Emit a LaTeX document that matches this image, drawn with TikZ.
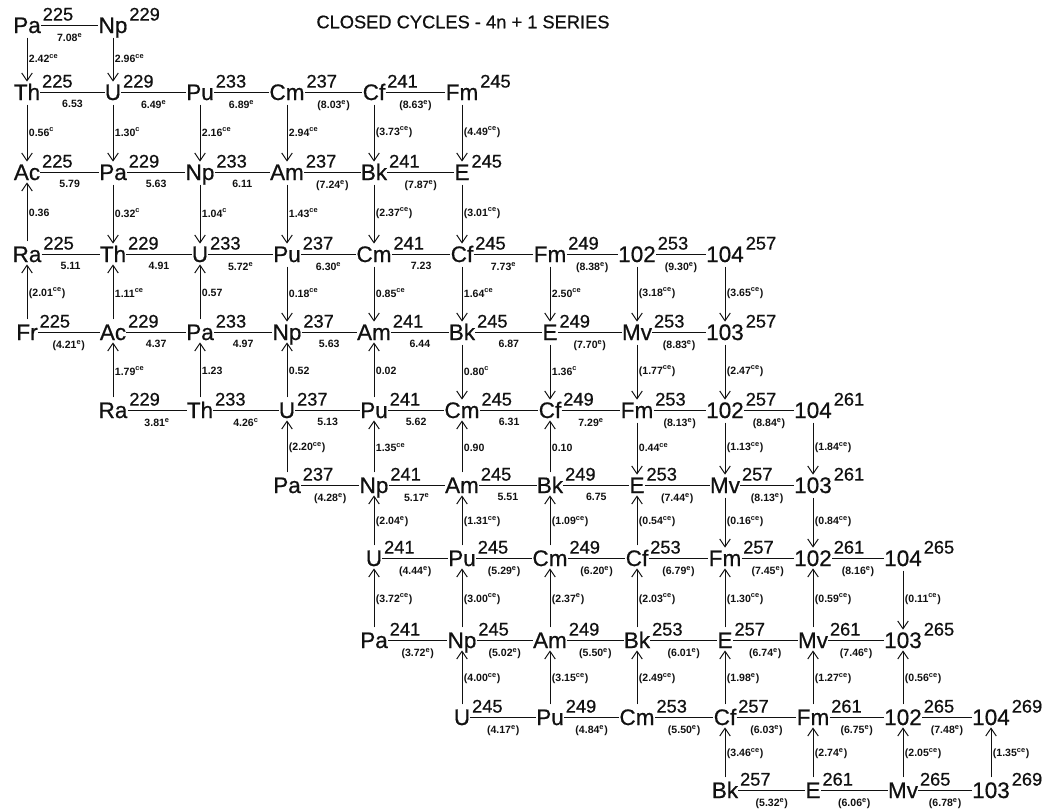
\documentclass[tikz,border=0pt]{standalone}
\usepackage{fontspec}
\setmainfont{Liberation Sans}
\newfontfamily\rotulo{Liberation Sans}[FakeBold=0.6]
\usetikzlibrary{arrows.meta,positioning}
\definecolor{tinta}{HTML}{111111}
\tikzset{
  nuclido/.style={inner sep=0pt,text height=11.4pt,text depth=0pt,font=\rotulo\fontsize{16}{16}\selectfont,text=tinta},
  masa/.style={font=\rotulo\fontsize{13}{13}\selectfont,inner sep=0pt,text height=9.3pt,text depth=0pt,xshift=1pt,yshift=7.8pt,text=tinta},
  enlace/.style={draw=tinta,line width=0.7pt},
  decae/.style={draw=tinta,line width=0.7pt,-{Straight Barb[length=5.5pt,width=7.5pt]},shorten <=3pt,shorten >=1.5pt},
  energia/.style={font=\fontsize{7.5}{7.5}\selectfont\bfseries,inner sep=0pt,text=tinta},
  titulo/.style={font=\rotulo\fontsize{13}{13}\selectfont,text=tinta},
}
\begin{document}
\begin{tikzpicture}[x=0.025cm,y=0.025cm]
\useasboundingbox (0,0) rectangle (1051,-810);
\node[titulo] (titulo) at (463,-22) {CLOSED CYCLES - 4n + 1 SERIES};
\node[nuclido,label={[masa]east:225}] (pa225) at (27,-25) {Pa};
\node[nuclido,label={[masa]east:229}] (np229) at (113,-25) {Np};
\node[nuclido,label={[masa]east:225}] (th225) at (27,-92) {Th};
\node[nuclido,label={[masa]east:229}] (u229) at (113,-92) {U};
\node[nuclido,label={[masa]east:233}] (pu233) at (200,-92) {Pu};
\node[nuclido,label={[masa]east:237}] (cm237) at (287,-92) {Cm};
\node[nuclido,label={[masa]east:241}] (cf241) at (374,-92) {Cf};
\node[nuclido,label={[masa]east:245}] (fm245) at (462,-92) {Fm};
\node[nuclido,label={[masa]east:225}] (ac225) at (27,-172) {Ac};
\node[nuclido,label={[masa]east:229}] (pa229) at (113,-172) {Pa};
\node[nuclido,label={[masa]east:233}] (np233) at (200,-172) {Np};
\node[nuclido,label={[masa]east:237}] (am237) at (287,-172) {Am};
\node[nuclido,label={[masa]east:241}] (bk241) at (374,-172) {Bk};
\node[nuclido,label={[masa]east:245}] (e245) at (462,-172) {E};
\node[nuclido,label={[masa]east:225}] (ra225) at (27,-254) {Ra};
\node[nuclido,label={[masa]east:229}] (th229) at (113,-254) {Th};
\node[nuclido,label={[masa]east:233}] (u233) at (200,-254) {U};
\node[nuclido,label={[masa]east:237}] (pu237) at (287,-254) {Pu};
\node[nuclido,label={[masa]east:241}] (cm241) at (374,-254) {Cm};
\node[nuclido,label={[masa]east:245}] (cf245) at (462,-254) {Cf};
\node[nuclido,label={[masa]east:249}] (fm249) at (550,-254) {Fm};
\node[nuclido,label={[masa]east:253}] (no253) at (637,-254) {102};
\node[nuclido,label={[masa]east:257}] (rf257) at (725,-254) {104};
\node[nuclido,label={[masa]east:225}] (fr225) at (27,-332) {Fr};
\node[nuclido,label={[masa]east:229}] (ac229) at (113,-332) {Ac};
\node[nuclido,label={[masa]east:233}] (pa233) at (200,-332) {Pa};
\node[nuclido,label={[masa]east:237}] (np237) at (287,-332) {Np};
\node[nuclido,label={[masa]east:241}] (am241) at (374,-332) {Am};
\node[nuclido,label={[masa]east:245}] (bk245) at (462,-332) {Bk};
\node[nuclido,label={[masa]east:249}] (e249) at (550,-332) {E};
\node[nuclido,label={[masa]east:253}] (mv253) at (637,-332) {Mv};
\node[nuclido,label={[masa]east:257}] (lr257) at (725,-332) {103};
\node[nuclido,label={[masa]east:229}] (ra229) at (113,-410) {Ra};
\node[nuclido,label={[masa]east:233}] (th233) at (200,-410) {Th};
\node[nuclido,label={[masa]east:237}] (u237) at (287,-410) {U};
\node[nuclido,label={[masa]east:241}] (pu241) at (374,-410) {Pu};
\node[nuclido,label={[masa]east:245}] (cm245) at (462,-410) {Cm};
\node[nuclido,label={[masa]east:249}] (cf249) at (550,-410) {Cf};
\node[nuclido,label={[masa]east:253}] (fm253) at (637,-410) {Fm};
\node[nuclido,label={[masa]east:257}] (no257) at (725,-410) {102};
\node[nuclido,label={[masa]east:261}] (rf261) at (813,-410) {104};
\node[nuclido,label={[masa]east:237}] (pa237) at (287,-485) {Pa};
\node[nuclido,label={[masa]east:241}] (np241) at (374,-485) {Np};
\node[nuclido,label={[masa]east:245}] (am245) at (462,-485) {Am};
\node[nuclido,label={[masa]east:249}] (bk249) at (550,-485) {Bk};
\node[nuclido,label={[masa]east:253}] (e253) at (637,-485) {E};
\node[nuclido,label={[masa]east:257}] (mv257) at (725,-485) {Mv};
\node[nuclido,label={[masa]east:261}] (lr261) at (813,-485) {103};
\node[nuclido,label={[masa]east:241}] (u241) at (374,-558) {U};
\node[nuclido,label={[masa]east:245}] (pu245) at (462,-558) {Pu};
\node[nuclido,label={[masa]east:249}] (cm249) at (550,-558) {Cm};
\node[nuclido,label={[masa]east:253}] (cf253) at (637,-558) {Cf};
\node[nuclido,label={[masa]east:257}] (fm257) at (725,-558) {Fm};
\node[nuclido,label={[masa]east:261}] (no261) at (813,-558) {102};
\node[nuclido,label={[masa]east:265}] (rf265) at (903,-558) {104};
\node[nuclido,label={[masa]east:241}] (pa241) at (374,-640) {Pa};
\node[nuclido,label={[masa]east:245}] (np245) at (462,-640) {Np};
\node[nuclido,label={[masa]east:249}] (am249) at (550,-640) {Am};
\node[nuclido,label={[masa]east:253}] (bk253) at (637,-640) {Bk};
\node[nuclido,label={[masa]east:257}] (e257) at (725,-640) {E};
\node[nuclido,label={[masa]east:261}] (mv261) at (813,-640) {Mv};
\node[nuclido,label={[masa]east:265}] (lr265) at (903,-640) {103};
\node[nuclido,label={[masa]east:245}] (u245) at (462,-717) {U};
\node[nuclido,label={[masa]east:249}] (pu249) at (550,-717) {Pu};
\node[nuclido,label={[masa]east:253}] (cm253) at (637,-717) {Cm};
\node[nuclido,label={[masa]east:257}] (cf257) at (725,-717) {Cf};
\node[nuclido,label={[masa]east:261}] (fm261) at (813,-717) {Fm};
\node[nuclido,label={[masa]east:265}] (no265) at (903,-717) {102};
\node[nuclido,label={[masa]east:269}] (rf269) at (991,-717) {104};
\node[nuclido,label={[masa]east:257}] (bk257) at (725,-790) {Bk};
\node[nuclido,label={[masa]east:261}] (e261) at (813,-790) {E};
\node[nuclido,label={[masa]east:265}] (mv265) at (903,-790) {Mv};
\node[nuclido,label={[masa]east:269}] (lr269) at (991,-790) {103};
\draw[enlace] (pa225) -- node[energia,below=5.5pt] {7.08\textsuperscript{e}} (np229);
\draw[enlace] (th225) -- node[energia,below=5.5pt] {6.53} (u229);
\draw[enlace] (u229) -- node[energia,below=5.5pt] {6.49\textsuperscript{e}} (pu233);
\draw[enlace] (pu233) -- node[energia,below=5.5pt] {6.89\textsuperscript{e}} (cm237);
\draw[enlace] (cm237) -- node[energia,below=5.5pt] {(8.03\textsuperscript{e})} (cf241);
\draw[enlace] (cf241) -- node[energia,below=5.5pt] {(8.63\textsuperscript{e})} (fm245);
\draw[enlace] (ac225) -- node[energia,below=5.5pt] {5.79} (pa229);
\draw[enlace] (pa229) -- node[energia,below=5.5pt] {5.63} (np233);
\draw[enlace] (np233) -- node[energia,below=5.5pt] {6.11} (am237);
\draw[enlace] (am237) -- node[energia,below=5.5pt] {(7.24\textsuperscript{e})} (bk241);
\draw[enlace] (bk241) -- node[energia,below=5.5pt] {(7.87\textsuperscript{e})} (e245);
\draw[enlace] (ra225) -- node[energia,below=5.5pt] {5.11} (th229);
\draw[enlace] (th229) -- node[energia,below=5.5pt] {4.91} (u233);
\draw[enlace] (u233) -- node[energia,below=5.5pt] {5.72\textsuperscript{e}} (pu237);
\draw[enlace] (pu237) -- node[energia,below=5.5pt] {6.30\textsuperscript{e}} (cm241);
\draw[enlace] (cm241) -- node[energia,below=5.5pt] {7.23} (cf245);
\draw[enlace] (cf245) -- node[energia,below=5.5pt] {7.73\textsuperscript{e}} (fm249);
\draw[enlace] (fm249) -- node[energia,below=5.5pt] {(8.38\textsuperscript{e})} (no253);
\draw[enlace] (no253) -- node[energia,below=5.5pt] {(9.30\textsuperscript{e})} (rf257);
\draw[enlace] (fr225) -- node[energia,below=5.5pt] {(4.21\textsuperscript{e})} (ac229);
\draw[enlace] (ac229) -- node[energia,below=5.5pt] {4.37} (pa233);
\draw[enlace] (pa233) -- node[energia,below=5.5pt] {4.97} (np237);
\draw[enlace] (np237) -- node[energia,below=5.5pt] {5.63} (am241);
\draw[enlace] (am241) -- node[energia,below=5.5pt] {6.44} (bk245);
\draw[enlace] (bk245) -- node[energia,below=5.5pt] {6.87} (e249);
\draw[enlace] (e249) -- node[energia,below=5.5pt] {(7.70\textsuperscript{e})} (mv253);
\draw[enlace] (mv253) -- node[energia,below=5.5pt] {(8.83\textsuperscript{e})} (lr257);
\draw[enlace] (ra229) -- node[energia,below=5.5pt] {3.81\textsuperscript{e}} (th233);
\draw[enlace] (th233) -- node[energia,below=5.5pt] {4.26\textsuperscript{c}} (u237);
\draw[enlace] (u237) -- node[energia,below=5.5pt] {5.13} (pu241);
\draw[enlace] (pu241) -- node[energia,below=5.5pt] {5.62} (cm245);
\draw[enlace] (cm245) -- node[energia,below=5.5pt] {6.31} (cf249);
\draw[enlace] (cf249) -- node[energia,below=5.5pt] {7.29\textsuperscript{e}} (fm253);
\draw[enlace] (fm253) -- node[energia,below=5.5pt] {(8.13\textsuperscript{e})} (no257);
\draw[enlace] (no257) -- node[energia,below=5.5pt] {(8.84\textsuperscript{e})} (rf261);
\draw[enlace] (pa237) -- node[energia,below=5.5pt] {(4.28\textsuperscript{e})} (np241);
\draw[enlace] (np241) -- node[energia,below=5.5pt] {5.17\textsuperscript{e}} (am245);
\draw[enlace] (am245) -- node[energia,below=5.5pt] {5.51} (bk249);
\draw[enlace] (bk249) -- node[energia,below=5.5pt] {6.75} (e253);
\draw[enlace] (e253) -- node[energia,below=5.5pt] {(7.44\textsuperscript{e})} (mv257);
\draw[enlace] (mv257) -- node[energia,below=5.5pt] {(8.13\textsuperscript{e})} (lr261);
\draw[enlace] (u241) -- node[energia,below=5.5pt] {(4.44\textsuperscript{e})} (pu245);
\draw[enlace] (pu245) -- node[energia,below=5.5pt] {(5.29\textsuperscript{e})} (cm249);
\draw[enlace] (cm249) -- node[energia,below=5.5pt] {(6.20\textsuperscript{e})} (cf253);
\draw[enlace] (cf253) -- node[energia,below=5.5pt] {(6.79\textsuperscript{e})} (fm257);
\draw[enlace] (fm257) -- node[energia,below=5.5pt] {(7.45\textsuperscript{e})} (no261);
\draw[enlace] (no261) -- node[energia,below=5.5pt] {(8.16\textsuperscript{e})} (rf265);
\draw[enlace] (pa241) -- node[energia,below=5.5pt] {(3.72\textsuperscript{e})} (np245);
\draw[enlace] (np245) -- node[energia,below=5.5pt] {(5.02\textsuperscript{e})} (am249);
\draw[enlace] (am249) -- node[energia,below=5.5pt] {(5.50\textsuperscript{e})} (bk253);
\draw[enlace] (bk253) -- node[energia,below=5.5pt] {(6.01\textsuperscript{e})} (e257);
\draw[enlace] (e257) -- node[energia,below=5.5pt] {(6.74\textsuperscript{e})} (mv261);
\draw[enlace] (mv261) -- node[energia,below=5.5pt] {(7.46\textsuperscript{e})} (lr265);
\draw[enlace] (u245) -- node[energia,below=5.5pt] {(4.17\textsuperscript{e})} (pu249);
\draw[enlace] (pu249) -- node[energia,below=5.5pt] {(4.84\textsuperscript{e})} (cm253);
\draw[enlace] (cm253) -- node[energia,below=5.5pt] {(5.50\textsuperscript{e})} (cf257);
\draw[enlace] (cf257) -- node[energia,below=5.5pt] {(6.03\textsuperscript{e})} (fm261);
\draw[enlace] (fm261) -- node[energia,below=5.5pt] {(6.75\textsuperscript{e})} (no265);
\draw[enlace] (no265) -- node[energia,below=5.5pt] {(7.48\textsuperscript{e})} (rf269);
\draw[enlace] (bk257) -- node[energia,below=5.5pt] {(5.32\textsuperscript{e})} (e261);
\draw[enlace] (e261) -- node[energia,below=5.5pt] {(6.06\textsuperscript{e})} (mv265);
\draw[enlace] (mv265) -- node[energia,below=5.5pt] {(6.78\textsuperscript{e})} (lr269);
\draw[decae] (pa225) -- node[energia,right=1pt] {2.42\textsuperscript{ce}} (th225);
\draw[decae] (np229) -- node[energia,right=1pt] {2.96\textsuperscript{ce}} (u229);
\draw[decae] (th225) -- node[energia,right=1pt] {0.56\textsuperscript{c}} (ac225);
\draw[decae] (u229) -- node[energia,right=1pt] {1.30\textsuperscript{c}} (pa229);
\draw[decae] (pu233) -- node[energia,right=1pt] {2.16\textsuperscript{ce}} (np233);
\draw[decae] (cm237) -- node[energia,right=1pt] {2.94\textsuperscript{ce}} (am237);
\draw[decae] (cf241) -- node[energia,right=1pt] {(3.73\textsuperscript{ce})} (bk241);
\draw[decae] (fm245) -- node[energia,right=1pt] {(4.49\textsuperscript{ce})} (e245);
\draw[decae] (ra225) -- node[energia,right=1pt] {0.36} (ac225);
\draw[decae] (pa229) -- node[energia,right=1pt] {0.32\textsuperscript{c}} (th229);
\draw[decae] (np233) -- node[energia,right=1pt] {1.04\textsuperscript{c}} (u233);
\draw[decae] (am237) -- node[energia,right=1pt] {1.43\textsuperscript{ce}} (pu237);
\draw[decae] (bk241) -- node[energia,right=1pt] {(2.37\textsuperscript{ce})} (cm241);
\draw[decae] (e245) -- node[energia,right=1pt] {(3.01\textsuperscript{ce})} (cf245);
\draw[decae] (fr225) -- node[energia,right=1pt] {(2.01\textsuperscript{ce})} (ra225);
\draw[decae] (ac229) -- node[energia,right=1pt] {1.11\textsuperscript{ce}} (th229);
\draw[decae] (pa233) -- node[energia,right=1pt] {0.57} (u233);
\draw[decae] (pu237) -- node[energia,right=1pt] {0.18\textsuperscript{ce}} (np237);
\draw[decae] (cm241) -- node[energia,right=1pt] {0.85\textsuperscript{ce}} (am241);
\draw[decae] (cf245) -- node[energia,right=1pt] {1.64\textsuperscript{ce}} (bk245);
\draw[decae] (fm249) -- node[energia,right=1pt] {2.50\textsuperscript{ce}} (e249);
\draw[decae] (no253) -- node[energia,right=1pt] {(3.18\textsuperscript{ce})} (mv253);
\draw[decae] (rf257) -- node[energia,right=1pt] {(3.65\textsuperscript{ce})} (lr257);
\draw[decae] (ra229) -- node[energia,right=1pt] {1.79\textsuperscript{ce}} (ac229);
\draw[decae] (th233) -- node[energia,right=1pt] {1.23} (pa233);
\draw[decae] (u237) -- node[energia,right=1pt] {0.52} (np237);
\draw[decae] (pu241) -- node[energia,right=1pt] {0.02} (am241);
\draw[decae] (bk245) -- node[energia,right=1pt] {0.80\textsuperscript{c}} (cm245);
\draw[decae] (e249) -- node[energia,right=1pt] {1.36\textsuperscript{c}} (cf249);
\draw[decae] (mv253) -- node[energia,right=1pt] {(1.77\textsuperscript{ce})} (fm253);
\draw[decae] (lr257) -- node[energia,right=1pt] {(2.47\textsuperscript{ce})} (no257);
\draw[decae] (pa237) -- node[energia,right=1pt] {(2.20\textsuperscript{ce})} (u237);
\draw[decae] (np241) -- node[energia,right=1pt] {1.35\textsuperscript{ce}} (pu241);
\draw[decae] (am245) -- node[energia,right=1pt] {0.90} (cm245);
\draw[decae] (bk249) -- node[energia,right=1pt] {0.10} (cf249);
\draw[decae] (fm253) -- node[energia,right=1pt] {0.44\textsuperscript{ce}} (e253);
\draw[decae] (no257) -- node[energia,right=1pt] {(1.13\textsuperscript{ce})} (mv257);
\draw[decae] (rf261) -- node[energia,right=1pt] {(1.84\textsuperscript{ce})} (lr261);
\draw[decae] (u241) -- node[energia,right=1pt] {(2.04\textsuperscript{e})} (np241);
\draw[decae] (pu245) -- node[energia,right=1pt] {(1.31\textsuperscript{ce})} (am245);
\draw[decae] (cm249) -- node[energia,right=1pt] {(1.09\textsuperscript{ce})} (bk249);
\draw[decae] (cf253) -- node[energia,right=1pt] {(0.54\textsuperscript{ce})} (e253);
\draw[decae] (mv257) -- node[energia,right=1pt] {(0.16\textsuperscript{ce})} (fm257);
\draw[decae] (lr261) -- node[energia,right=1pt] {(0.84\textsuperscript{ce})} (no261);
\draw[decae] (pa241) -- node[energia,right=1pt] {(3.72\textsuperscript{ce})} (u241);
\draw[decae] (np245) -- node[energia,right=1pt] {(3.00\textsuperscript{ce})} (pu245);
\draw[decae] (am249) -- node[energia,right=1pt] {(2.37\textsuperscript{e})} (cm249);
\draw[decae] (bk253) -- node[energia,right=1pt] {(2.03\textsuperscript{ce})} (cf253);
\draw[decae] (e257) -- node[energia,right=1pt] {(1.30\textsuperscript{ce})} (fm257);
\draw[decae] (mv261) -- node[energia,right=1pt] {(0.59\textsuperscript{ce})} (no261);
\draw[decae] (rf265) -- node[energia,right=1pt] {(0.11\textsuperscript{ce})} (lr265);
\draw[decae] (u245) -- node[energia,right=1pt] {(4.00\textsuperscript{ce})} (np245);
\draw[decae] (pu249) -- node[energia,right=1pt] {(3.15\textsuperscript{ce})} (am249);
\draw[decae] (cm253) -- node[energia,right=1pt] {(2.49\textsuperscript{ce})} (bk253);
\draw[decae] (cf257) -- node[energia,right=1pt] {(1.98\textsuperscript{e})} (e257);
\draw[decae] (fm261) -- node[energia,right=1pt] {(1.27\textsuperscript{ce})} (mv261);
\draw[decae] (no265) -- node[energia,right=1pt] {(0.56\textsuperscript{ce})} (lr265);
\draw[decae] (bk257) -- node[energia,right=1pt] {(3.46\textsuperscript{ce})} (cf257);
\draw[decae] (e261) -- node[energia,right=1pt] {(2.74\textsuperscript{e})} (fm261);
\draw[decae] (mv265) -- node[energia,right=1pt] {(2.05\textsuperscript{ce})} (no265);
\draw[decae] (lr269) -- node[energia,right=1pt] {(1.35\textsuperscript{ce})} (rf269);
\end{tikzpicture}
\end{document}
